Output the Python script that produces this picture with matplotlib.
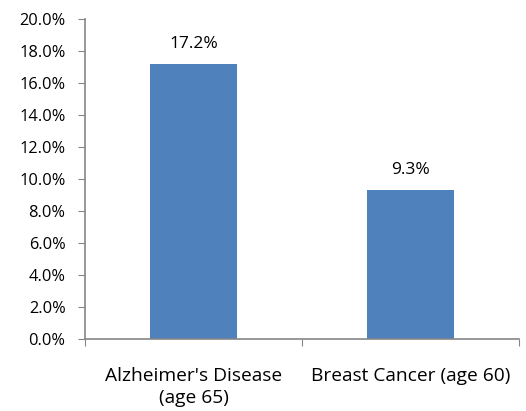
import matplotlib
matplotlib.use("Agg")
import matplotlib.pyplot as plt
from matplotlib.ticker import PercentFormatter, MultipleLocator

categories = ["Alzheimer's Disease\n(age 65)", "Breast Cancer (age 60)"]
values = [17.2, 9.3]
value_labels = ["17.2%", "9.3%"]

plt.rcParams["font.family"] = ["Open Sans", "DejaVu Sans"]

fig = plt.figure(figsize=(5.26, 4.11), dpi=100)
ax = fig.add_axes([0.1616, 0.175, 0.8251, 0.7788])

positions = range(len(categories))
bars = ax.bar(positions, values, width=0.4, color="#4F81BD")
for bar, text in zip(bars, value_labels):
    ax.text(bar.get_x() + bar.get_width() / 2, bar.get_height() + 0.75, text,
            ha="center", va="bottom", fontsize=12.5, color="black")

ax.set_xlim(-0.5, 1.5)
ax.set_ylim(0, 20)
ax.yaxis.set_major_locator(MultipleLocator(2))
ax.yaxis.set_major_formatter(PercentFormatter(decimals=1))

ax.set_xticks([-0.5, 0.5, 1.5])
ax.set_xticklabels([])
ax.set_xticks([0, 1], minor=True)
labels = ax.set_xticklabels(categories, minor=True, fontsize=13.8)
for label in labels:
    label.set_linespacing(1.3)
ax.tick_params(axis="x", which="minor", length=0, pad=20)
ax.tick_params(axis="x", which="major", length=5, color="#868686")
ax.tick_params(axis="y", length=5, color="#868686", labelsize=11.8, pad=9)

for side in ["top", "right"]:
    ax.spines[side].set_visible(False)
for side in ["left", "bottom"]:
    ax.spines[side].set_color("#868686")
    ax.spines[side].set_linewidth(1.2)

fig.savefig("out.png", dpi=100)
